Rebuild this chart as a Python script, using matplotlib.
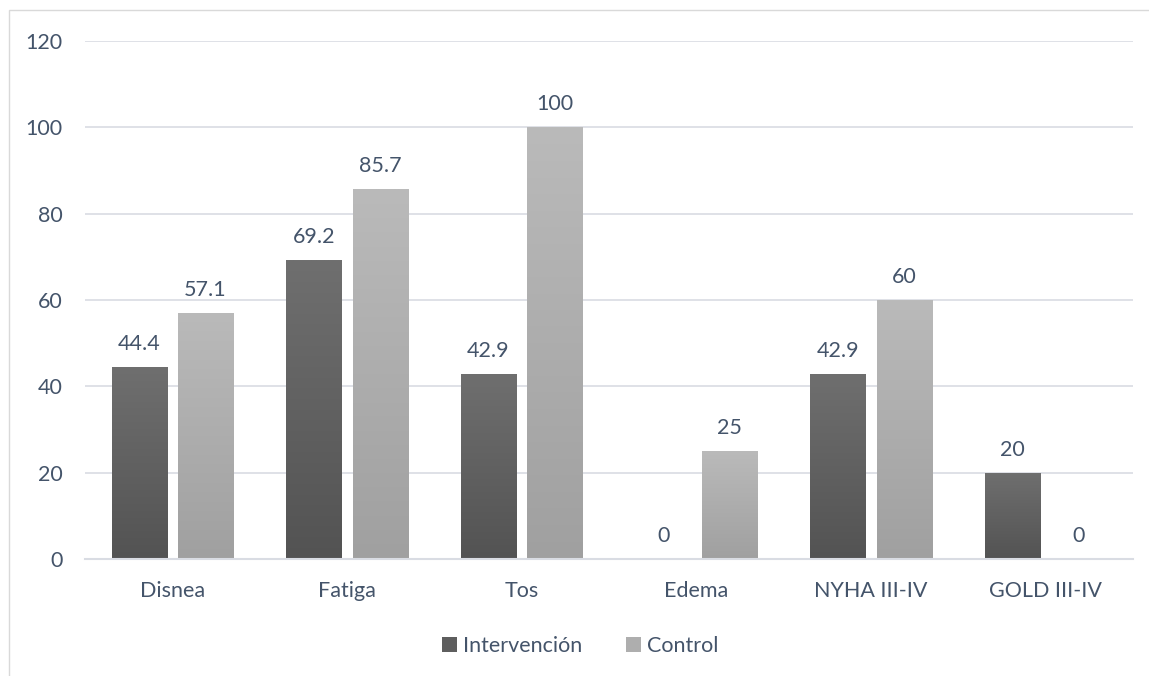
import numpy as np
import matplotlib
matplotlib.use('agg')
import matplotlib.pyplot as plt
from matplotlib.colors import LinearSegmentedColormap
from matplotlib.patches import Patch, Rectangle

categories = ["Disnea", "Fatiga", "Tos", "Edema", "NYHA III-IV", "GOLD III-IV"]
intervencion = [44.4, 69.2, 42.9, 0, 42.9, 20]
control = [57.1, 85.7, 100, 25, 60, 0]
yticks = [0, 20, 40, 60, 80, 100, 120]

TEXT = "#44546a"
GRID = "#d9dce3"
FS = 15.5

plt.rcParams['font.family'] = ['Lato', 'DejaVu Sans']

fig = plt.figure(figsize=(11.49, 6.76), dpi=100)
ax = fig.add_axes([85 / 1149, 1 - 559 / 676, 1048 / 1149, 518 / 676])

# chart frame (only top and left edges fall inside the canvas)
frame = Rectangle((9 / 1149, -0.1), 1.2, 1 - 10 / 676 + 0.1, transform=fig.transFigure,
                  fill=False, edgecolor="#d9d9d9", linewidth=1.0)
fig.patches.append(frame)

x = np.arange(len(categories))
width = 0.315
offset = 0.19


def gradient_bars(xs, vals, top, bottom):
    cmap = LinearSegmentedColormap.from_list("g", [bottom, top])
    grad = np.linspace(0, 1, 256).reshape(-1, 1)
    bars = ax.bar(xs, vals, width, color="none", edgecolor="none", zorder=2)
    for b in bars:
        h = b.get_height()
        if h <= 0:
            continue
        x0 = b.get_x()
        im = ax.imshow(grad, cmap=cmap, origin="lower", aspect="auto",
                       extent=[x0, x0 + b.get_width(), 0, h], zorder=2)
        im.set_clip_path(b)
    return bars


gradient_bars(x - offset, intervencion, "#6f6f6f", "#535353")
gradient_bars(x + offset, control, "#bababa", "#a0a0a0")

for xi, v in zip(x - offset, intervencion):
    ax.text(xi, v + 3, f"{v:g}", ha="center", va="bottom", fontsize=FS, color=TEXT)
for xi, v in zip(x + offset, control):
    ax.text(xi, v + 3, f"{v:g}", ha="center", va="bottom", fontsize=FS, color=TEXT)

ax.set_xlim(-0.5, len(categories) - 0.5)
ax.set_ylim(0, 120)
ax.set_yticks(yticks)
ax.set_xticks(x)
ax.set_xticklabels(categories)
ax.tick_params(axis="both", length=0, labelsize=FS, labelcolor=TEXT)
ax.tick_params(axis="y", pad=16)
ax.tick_params(axis="x", pad=16)
ax.grid(axis="y", color=GRID, linewidth=1.2, zorder=0)
ax.set_axisbelow(True)
for s in ["top", "right", "left"]:
    ax.spines[s].set_visible(False)
ax.spines["bottom"].set_color(GRID)
ax.spines["bottom"].set_linewidth(1.5)

handles = [Patch(facecolor="#5e5e5e", label="Intervención"),
           Patch(facecolor="#aeaeae", label="Control")]
fig.legend(handles=handles, loc="center", bbox_to_anchor=(0.505, 1 - 646 / 676), ncol=2,
           frameon=False, fontsize=FS, labelcolor=TEXT, handlelength=0.7,
           handleheight=0.7, handletextpad=0.3, columnspacing=2.0)

fig.savefig("out.png", dpi=100)
